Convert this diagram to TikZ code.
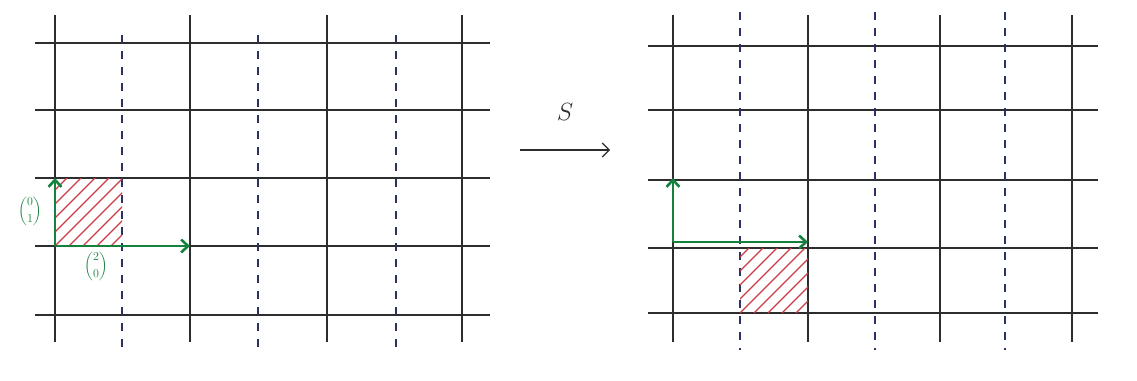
\documentclass[tikz,border=0pt]{standalone}
\usepackage{amsmath}
\usetikzlibrary{arrows.meta}
\definecolor{gridgray}{RGB}{45,45,45}
\definecolor{dashblue}{RGB}{40,50,100}
\definecolor{vecgreen}{RGB}{20,130,60}
\definecolor{hatchred}{RGB}{200,60,70}
\tikzset{
  gridline/.style={draw=gridgray, line width=1.6pt},
  dashline/.style={draw=dashblue, line width=1.3pt, dash pattern=on 8pt off 8pt},
  vec/.style={draw=vecgreen, line width=2.6pt, -{Straight Barb[length=7pt,width=13pt]}},
  hatchline/.style={draw=hatchred, line width=1.1pt},
  lbl/.style={text=vecgreen, font=\large, inner sep=1pt},
}
\begin{document}
\begin{tikzpicture}[x=1pt,y=-1pt]
\useasboundingbox (0,0) rectangle (1137,380);
% left grid
\foreach \yy in {43,110,178,246,315} \draw[gridline] (35,\yy) -- (490,\yy);
\foreach \xx in {55,190,327,462} \draw[gridline] (\xx,15) -- (\xx,342);
\foreach \xx in {122,258,396} \draw[dashline] (\xx,35) -- (\xx,352);
% left hatch
\begin{scope}
\clip (55,178) rectangle (122,246);
\foreach \k in {-84,-70,...,84} \draw[hatchline] (55+\k,246) -- (55+\k+80,166);
\end{scope}
\coordinate (lo) at (55,246);
\coordinate (le1) at (190,246);
\coordinate (le2) at (55,178);
\draw[vec] (lo) -- (le1);
\draw[vec] (lo) -- (le2);
\node[lbl] (l1) at (30,211) {$\dbinom{0}{1}$};
\node[lbl] (l2) at (96,266) {$\dbinom{2}{0}$};
% arrow S
\coordinate (sa) at (520,150);
\coordinate (sb) at (610,150);
\draw[line width=1.1pt, gridgray, -{Straight Barb[length=7pt,width=14pt]}] (sa) -- (sb);
\node[font=\fontsize{26}{30}\selectfont, text=gridgray] (S) at (565,112) {$S$};
% right grid
\foreach \yy in {46,110,180,248,313} \draw[gridline] (648,\yy) -- (1098,\yy);
\foreach \xx in {673,808,940,1072} \draw[gridline] (\xx,15) -- (\xx,342);
\foreach \xx in {740,875,1005} \draw[dashline] (\xx,12) -- (\xx,350);
% right hatch
\begin{scope}
\clip (740,248) rectangle (808,313);
\foreach \k in {-84,-70,...,84} \draw[hatchline] (740+\k,313) -- (740+\k+80,233);
\end{scope}
\coordinate (ro) at (673,242);
\coordinate (re1) at (808,242);
\coordinate (re2) at (673,178);
\draw[vec] (ro) -- (re1);
\draw[vec] (ro) -- (re2);
\end{tikzpicture}
\end{document}
